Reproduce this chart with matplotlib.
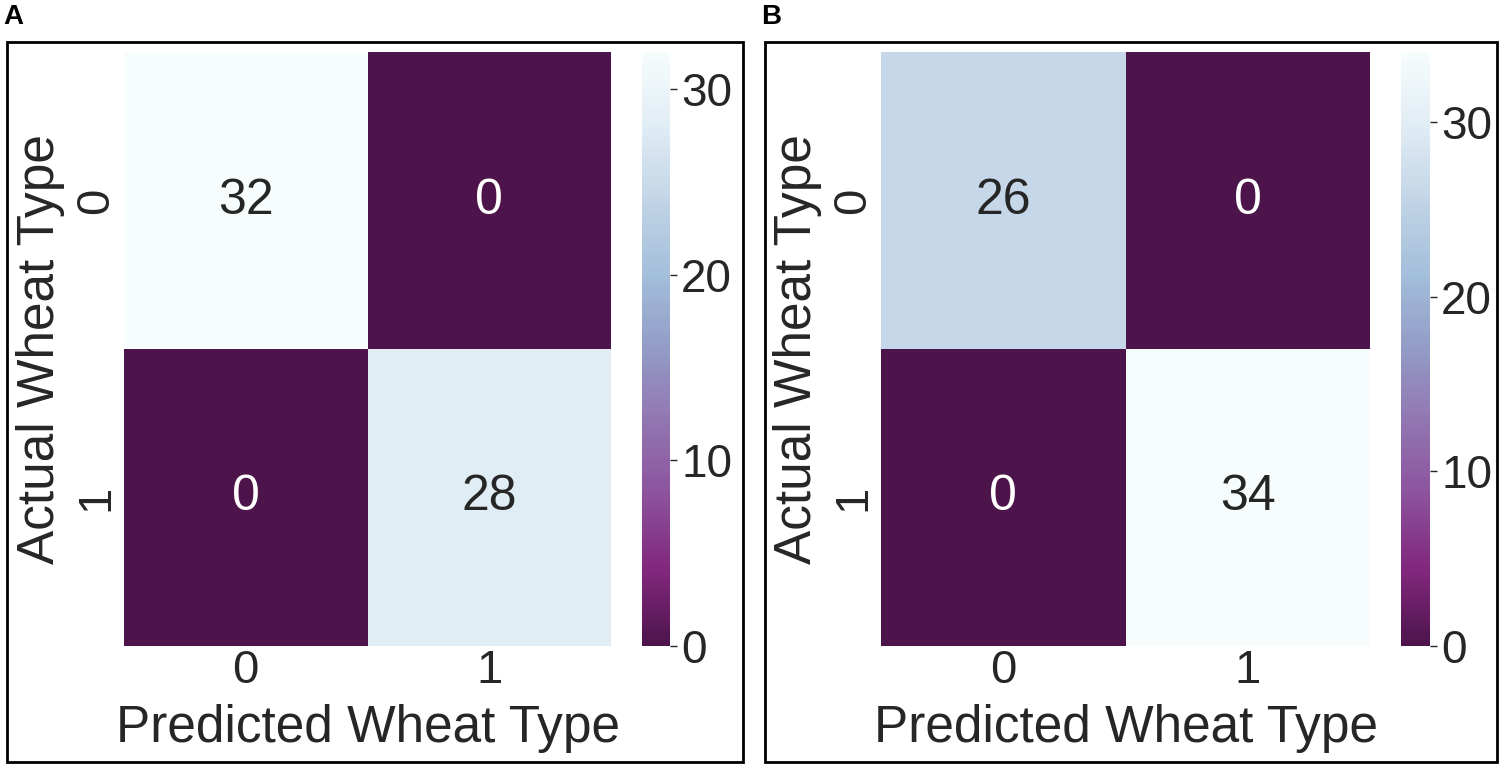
import numpy as np
import matplotlib
matplotlib.use("Agg")
import matplotlib.pyplot as plt
from matplotlib.patches import Rectangle
from matplotlib.colors import ListedColormap, rgb_to_hsv, hsv_to_rgb
import seaborn as sns

sns.set_theme(style="white")
plt.rcParams['font.family'] = ['Liberation Sans', 'DejaVu Sans']
plt.rcParams['text.color'] = '#262626'

# confusion matrices
labels = ["0", "1"]
cm_a = np.array([[32, 0],
                 [0, 28]])
cm_b = np.array([[26, 0],
                 [0, 34]])
cbar_ticks = [0, 10, 20, 30]
xlab = "Predicted Wheat Type"
ylab = "Actual Wheat Type"
panel_tags = ["A", "B"]

# BuPu_r, dark end a bit washed out like the printed figure
base = plt.get_cmap("BuPu_r")(np.linspace(0, 1, 256))[:, :3]
hsv = rgb_to_hsv(base)
hsv[:, 1] *= 0.72 + 0.28 * hsv[:, 2]**2
cmap = ListedColormap(hsv_to_rgb(hsv))

W, H = 1499, 764
fig = plt.figure(figsize=(W/100, H/100), dpi=100)

def px_axes(x0, y0, x1, y1):
    # pixel box (top-left origin) -> figure axes
    return fig.add_axes([x0/W, 1 - y1/H, (x1 - x0)/W, (y1 - y0)/H])

panels = [
    (cm_a, (124, 611), (642, 670), (7, 743), 3),
    (cm_b, (881, 1370), (1401, 1430), (765, 1497), 761),
]

for (cm, hx, cx, bx, tx), tag in zip(panels, panel_tags):
    top, bot = 52, 646
    ax = px_axes(hx[0], top, hx[1], bot)
    cax = px_axes(cx[0], top, cx[1], bot)
    sns.heatmap(cm, ax=ax, cbar_ax=cax, annot=True, fmt="d", cmap=cmap,
                vmin=0, vmax=cm.max(), xticklabels=labels, yticklabels=labels,
                annot_kws={"size": 36})
    ax.set_xlabel("")
    ax.set_ylabel("")
    ax.tick_params(axis="x", length=0, pad=2, labelsize=34, colors="#262626")
    ax.tick_params(axis="y", length=0, pad=4, labelsize=34, colors="#262626")
    for t in ax.get_yticklabels():
        t.set_rotation(90)
        t.set_va("center")
    cax.set_yticks(cbar_ticks)
    cax.tick_params(length=5, width=1, pad=3, labelsize=33, colors="#262626")
    for s in cax.spines.values():
        s.set_visible(False)

    xc = (hx[0] + hx[1]) / 2
    fig.text(xc/W, 1 - 742/H, xlab, fontsize=37, ha="center", va="baseline")
    fig.text((hx[0] - 70)/W, 1 - 349/H, ylab, fontsize=37, rotation=90,
             rotation_mode="anchor", ha="center", va="baseline")

    fig.patches.append(Rectangle((bx[0]/W, 1 - 762/H), (bx[1] - bx[0])/W, 720/H,
                                 transform=fig.transFigure, fill=False,
                                 edgecolor="black", linewidth=2))
    fig.text(tx/W, 1 - 24/H, tag, fontsize=20, fontweight="bold",
             color="black", ha="left", va="baseline")

fig.savefig("out.png", dpi=100)
